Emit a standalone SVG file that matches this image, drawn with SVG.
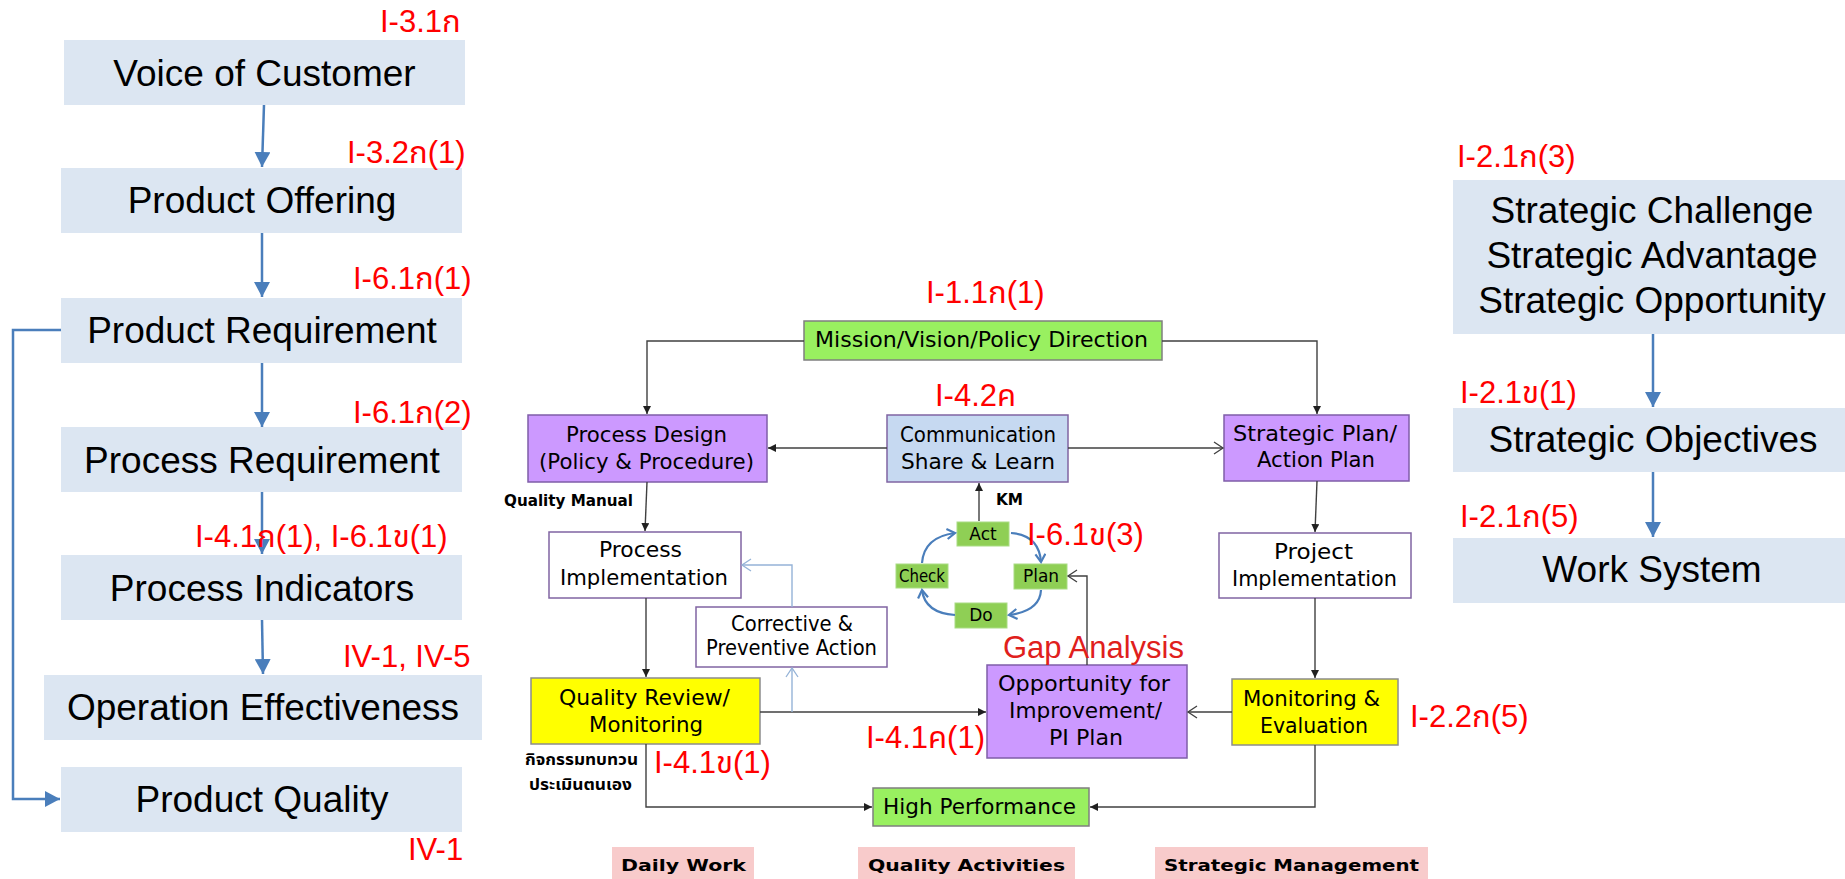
<svg xmlns="http://www.w3.org/2000/svg" width="1845" height="879" viewBox="0 0 1845 879">
  <style>
    .side { fill: #dce6f2; }
    .big { font-family: "Liberation Sans", Arial, sans-serif; font-size: 37px; fill: #000; text-anchor: middle; }
    .ref { font-family: "Liberation Sans", "Noto Sans Thai", "Noto Sans", sans-serif; font-size: 31px; fill: #ff0000; }
    .gap { fill: #e0201c; }
    .blueline { stroke: #4a7ebb; stroke-width: 2.5; fill: none; }
    .conn { stroke: #404040; stroke-width: 1.4; fill: none; }
    .lconn { stroke: #95b3d7; stroke-width: 1.4; fill: none; }
    .cyc { stroke: #4a7ebb; stroke-width: 2.2; fill: none; }
    .t { font-family: "DejaVu Sans", "Noto Sans", sans-serif; font-size: 22px; fill: #000; }
    .ts { font-family: "DejaVu Sans", "Noto Sans", sans-serif; font-size: 17px; fill: #000; text-anchor: middle; }
    .tb { font-family: "DejaVu Sans", "Noto Sans Thai", "Noto Sans", sans-serif; font-size: 16px; font-weight: bold; fill: #000; }
    .green { fill: #99f060; stroke: #7f7f7f; stroke-width: 1.5; }
    .lav { fill: #cc99ff; stroke: #7f5ea8; stroke-width: 1.5; }
    .comm { fill: #c6d9f1; stroke: #8064a2; stroke-width: 1.5; }
    .white { fill: #ffffff; stroke: #8064a2; stroke-width: 1.5; }
    .yellow { fill: #ffff00; stroke: #8c8c8c; stroke-width: 1.5; }
    .pdca { fill: #8fcf55; stroke: #a9dc84; stroke-width: 1; }
    .pink { fill: #f8cbcb; }
  </style>
  <defs>
    <marker id="blueHead" markerUnits="userSpaceOnUse" markerWidth="16" markerHeight="16" refX="15" refY="8" orient="auto">
      <path d="M0,0 L15,8 L0,16 Z" fill="#4a7ebb"/>
    </marker>
    <marker id="solidHead" markerUnits="userSpaceOnUse" markerWidth="9" markerHeight="8" refX="8" refY="4" orient="auto">
      <path d="M0,0 L8,4 L0,8 Z" fill="#202020"/>
    </marker>
    <marker id="openHead" markerUnits="userSpaceOnUse" markerWidth="12" markerHeight="14" refX="10" refY="7" orient="auto">
      <path d="M1,1 L10,7 L1,13" fill="none" stroke="#404040" stroke-width="1.3"/>
    </marker>
    <marker id="openHeadLight" markerUnits="userSpaceOnUse" markerWidth="12" markerHeight="14" refX="10" refY="7" orient="auto">
      <path d="M1,1 L10,7 L1,13" fill="none" stroke="#95b3d7" stroke-width="1.3"/>
    </marker>
    <marker id="cycHead" markerUnits="userSpaceOnUse" markerWidth="12" markerHeight="12" refX="9" refY="6" orient="auto">
      <path d="M1,1 L9,6 L1,11" fill="none" stroke="#4a7ebb" stroke-width="2.2"/>
    </marker>
  </defs>

  <!-- left column: customer to product quality chain -->
  <g id="voice-of-customer">
    <rect class="side" x="64" y="40" width="401" height="65"/>
    <text class="big" x="264.5" y="86">Voice of Customer</text>
  </g>
  <g id="product-offering">
    <rect class="side" x="61" y="168" width="401" height="65"/>
    <text class="big" x="262" y="213">Product Offering</text>
  </g>
  <g id="product-requirement">
    <rect class="side" x="61" y="298" width="401" height="65"/>
    <text class="big" x="262" y="343">Product Requirement</text>
  </g>
  <g id="process-requirement">
    <rect class="side" x="61" y="427" width="401" height="65"/>
    <text class="big" x="262" y="473">Process Requirement</text>
  </g>
  <g id="process-indicators">
    <rect class="side" x="61" y="555" width="401" height="65"/>
    <text class="big" x="262" y="601">Process Indicators</text>
  </g>
  <g id="operation-effectiveness">
    <rect class="side" x="44" y="675" width="438" height="65"/>
    <text class="big" x="263" y="720">Operation Effectiveness</text>
  </g>
  <g id="product-quality">
    <rect class="side" x="61" y="767" width="401" height="65"/>
    <text class="big" x="262" y="812">Product Quality</text>
  </g>

  <!-- right column: strategy chain -->
  <g id="strategic-context">
    <rect class="side" x="1453" y="180" width="392" height="154"/>
    <text class="big" x="1652" y="223">Strategic Challenge</text>
    <text class="big" x="1652" y="268">Strategic Advantage</text>
    <text class="big" x="1652" y="313">Strategic Opportunity</text>
  </g>
  <g id="strategic-objectives">
    <rect class="side" x="1453" y="408" width="392" height="64"/>
    <text class="big" x="1653" y="452">Strategic Objectives</text>
  </g>
  <g id="work-system">
    <rect class="side" x="1453" y="538" width="392" height="65"/>
    <text class="big" x="1652" y="582">Work System</text>
  </g>

  <!-- centre: management system flow -->
  <g id="mission">
    <rect class="green" x="804" y="321" width="358" height="39"/>
    <text class="t" x="815" y="347" font-size="23" textLength="333" lengthAdjust="spacingAndGlyphs">Mission/Vision/Policy Direction</text>
  </g>
  <g id="process-design">
    <rect class="lav" x="528" y="415" width="239" height="67"/>
    <text class="t" x="566" y="442" textLength="161" lengthAdjust="spacingAndGlyphs">Process Design</text>
    <text class="t" x="539" y="469" textLength="215" lengthAdjust="spacingAndGlyphs">(Policy &amp; Procedure)</text>
  </g>
  <g id="communication">
    <rect class="comm" x="887" y="415" width="181" height="67"/>
    <text class="t" x="900" y="442" textLength="156" lengthAdjust="spacingAndGlyphs">Communication</text>
    <text class="t" x="901" y="469" textLength="154" lengthAdjust="spacingAndGlyphs">Share &amp; Learn</text>
  </g>
  <g id="strategic-plan">
    <rect class="lav" x="1224" y="415" width="185" height="66"/>
    <text class="t" x="1233" y="441" font-size="21" textLength="164" lengthAdjust="spacingAndGlyphs">Strategic Plan/</text>
    <text class="t" x="1257" y="467" font-size="21" textLength="118" lengthAdjust="spacingAndGlyphs">Action Plan</text>
  </g>
  <g id="process-implementation">
    <rect class="white" x="549" y="532" width="192" height="66"/>
    <text class="t" x="599" y="557" textLength="83" lengthAdjust="spacingAndGlyphs">Process</text>
    <text class="t" x="560" y="585" textLength="168" lengthAdjust="spacingAndGlyphs">Implementation</text>
  </g>
  <g id="project-implementation">
    <rect class="white" x="1219" y="533" width="192" height="65"/>
    <text class="t" x="1274" y="559" font-size="21" textLength="79" lengthAdjust="spacingAndGlyphs">Project</text>
    <text class="t" x="1232" y="586" font-size="21" textLength="165" lengthAdjust="spacingAndGlyphs">Implementation</text>
  </g>
  <g id="corrective-action">
    <rect class="white" x="696" y="607" width="191" height="60"/>
    <text class="t" x="731" y="631" font-size="20" textLength="122" lengthAdjust="spacingAndGlyphs">Corrective &amp;</text>
    <text class="t" x="706" y="655" font-size="20" textLength="171" lengthAdjust="spacingAndGlyphs">Preventive Action</text>
  </g>
  <g id="quality-review">
    <rect class="yellow" x="531" y="678" width="229" height="66"/>
    <text class="t" x="559" y="705" textLength="171" lengthAdjust="spacingAndGlyphs">Quality Review/</text>
    <text class="t" x="589" y="732" textLength="114" lengthAdjust="spacingAndGlyphs">Monitoring</text>
  </g>
  <g id="opportunity">
    <rect class="lav" x="987" y="665" width="200" height="93"/>
    <text class="t" x="998" y="691" textLength="172" lengthAdjust="spacingAndGlyphs">Opportunity for</text>
    <text class="t" x="1009" y="718" textLength="153" lengthAdjust="spacingAndGlyphs">Improvement/</text>
    <text class="t" x="1049" y="745" textLength="74" lengthAdjust="spacingAndGlyphs">PI Plan</text>
  </g>
  <g id="monitoring-evaluation">
    <rect class="yellow" x="1232" y="679" width="166" height="66"/>
    <text class="t" x="1243" y="706" font-size="21" textLength="137" lengthAdjust="spacingAndGlyphs">Monitoring &amp;</text>
    <text class="t" x="1260" y="733" font-size="21" textLength="108" lengthAdjust="spacingAndGlyphs">Evaluation</text>
  </g>
  <g id="high-performance">
    <rect class="green" x="873" y="788" width="216" height="38"/>
    <text class="t" x="883" y="814" font-size="24" textLength="193" lengthAdjust="spacingAndGlyphs">High Performance</text>
  </g>

  <!-- PDCA cycle -->
  <g id="pdca-act">
    <rect class="pdca" x="957" y="522" width="52" height="24"/>
    <text class="ts" x="983" y="540">Act</text>
  </g>
  <g id="pdca-plan">
    <rect class="pdca" x="1014" y="564" width="53" height="25"/>
    <text class="ts" x="1041" y="582">Plan</text>
  </g>
  <g id="pdca-do">
    <rect class="pdca" x="955" y="603" width="52" height="25"/>
    <text class="ts" x="981" y="621">Do</text>
  </g>
  <g id="pdca-check">
    <rect class="pdca" x="896" y="564" width="52" height="24"/>
    <text class="ts" x="922" y="582" textLength="46" lengthAdjust="spacingAndGlyphs">Check</text>
  </g>

  <!-- stream labels -->
  <g id="daily-work">
    <rect class="pink" x="612" y="847" width="142" height="32"/>
    <text class="tb" x="621" y="871" font-size="25" textLength="125" lengthAdjust="spacingAndGlyphs">Daily Work</text>
  </g>
  <g id="quality-activities">
    <rect class="pink" x="858" y="847" width="217" height="32"/>
    <text class="tb" x="868" y="871" font-size="25" textLength="197" lengthAdjust="spacingAndGlyphs">Quality Activities</text>
  </g>
  <g id="strategic-management">
    <rect class="pink" x="1155" y="847" width="273" height="32"/>
    <text class="tb" x="1164" y="871" font-size="25" textLength="255" lengthAdjust="spacingAndGlyphs">Strategic Management</text>
  </g>

  <!-- connectors -->
  <g id="connectors">
    <!-- side columns -->
    <path class="blueline" d="M264,105 L262,167" marker-end="url(#blueHead)"/>
    <path class="blueline" d="M262,233 L262,297" marker-end="url(#blueHead)"/>
    <path class="blueline" d="M262,363 L262,427" marker-end="url(#blueHead)"/>
    <path class="blueline" d="M262,492 L262,554" marker-end="url(#blueHead)"/>
    <path class="blueline" d="M262,620 L263,674" marker-end="url(#blueHead)"/>
    <path class="blueline" d="M61,330 H13 V799 H60" marker-end="url(#blueHead)"/>
    <path class="blueline" d="M1653,334 V407" marker-end="url(#blueHead)"/>
    <path class="blueline" d="M1653,472 V537" marker-end="url(#blueHead)"/>

    <!-- centre flow -->
    <path class="conn" d="M804,341 H647 V414" marker-end="url(#solidHead)"/>
    <path class="conn" d="M1162,341 H1317 V414" marker-end="url(#solidHead)"/>
    <path class="conn" d="M887,448 H768" marker-end="url(#solidHead)"/>
    <path class="conn" d="M1068,448 H1223" marker-end="url(#openHead)"/>
    <path class="conn" d="M979,521 V483" marker-end="url(#solidHead)"/>
    <path class="conn" d="M647,482 L645,531" marker-end="url(#solidHead)"/>
    <path class="conn" d="M646,598 V677" marker-end="url(#solidHead)"/>
    <path class="conn" d="M760,712 H986" marker-end="url(#solidHead)"/>
    <path class="conn" d="M646,744 V807 H872" marker-end="url(#solidHead)"/>
    <path class="conn" d="M1317,481 L1315,532" marker-end="url(#solidHead)"/>
    <path class="conn" d="M1315,598 V678" marker-end="url(#solidHead)"/>
    <path class="conn" d="M1232,712 H1188" marker-end="url(#openHead)"/>
    <path class="conn" d="M1315,745 V807 H1090" marker-end="url(#solidHead)"/>
    <path class="conn" d="M1087,665 V576 H1068" marker-end="url(#openHead)"/>
    <path class="lconn" d="M792,607 V565 H742" marker-end="url(#openHeadLight)"/>
    <path class="lconn" d="M792,712 V668" marker-end="url(#openHeadLight)"/>

    <!-- PDCA loop -->
    <path class="cyc" d="M922,563 Q924,537 955,533" marker-end="url(#cycHead)"/>
    <path class="cyc" d="M1011,533 Q1039,535 1041,562" marker-end="url(#cycHead)"/>
    <path class="cyc" d="M1041,590 Q1040,611 1009,615" marker-end="url(#cycHead)"/>
    <path class="cyc" d="M955,615 Q925,613 922,590" marker-end="url(#cycHead)"/>
  </g>

  <!-- annotations -->
  <g id="annotations">
    <text class="ref" x="380" y="32">I-3.1ก</text>
    <text class="ref" x="347" y="163">I-3.2ก(1)</text>
    <text class="ref" x="353" y="289">I-6.1ก(1)</text>
    <text class="ref" x="353" y="423">I-6.1ก(2)</text>
    <text class="ref" x="195" y="547">I-4.1ก(1), I-6.1ข(1)</text>
    <text class="ref" x="343" y="667">IV-1, IV-5</text>
    <text class="ref" x="408" y="860">IV-1</text>
    <text class="ref" x="1457" y="167">I-2.1ก(3)</text>
    <text class="ref" x="1460" y="403">I-2.1ข(1)</text>
    <text class="ref" x="1460" y="527">I-2.1ก(5)</text>
    <text class="ref" x="926" y="303">I-1.1ก(1)</text>
    <text class="ref" x="935" y="406">I-4.2ค</text>
    <text class="ref" x="1027" y="545">I-6.1ข(3)</text>
    <text class="ref gap" x="1003" y="658" font-size="30">Gap Analysis</text>
    <text class="ref" x="866" y="748">I-4.1ค(1)</text>
    <text class="ref" x="654" y="773">I-4.1ข(1)</text>
    <text class="ref" x="1410" y="727">I-2.2ก(5)</text>
    <text class="tb" x="996" y="505" font-size="15" textLength="27" lengthAdjust="spacingAndGlyphs">KM</text>
    <text class="tb" x="504" y="506" font-size="15" textLength="129" lengthAdjust="spacingAndGlyphs">Quality Manual</text>
    <text class="tb" x="525" y="765" font-size="15" textLength="113" lengthAdjust="spacingAndGlyphs">กิจกรรมทบทวน</text>
    <text class="tb" x="529" y="790" font-size="15" textLength="103" lengthAdjust="spacingAndGlyphs">ประเมินตนเอง</text>
  </g>
</svg>
